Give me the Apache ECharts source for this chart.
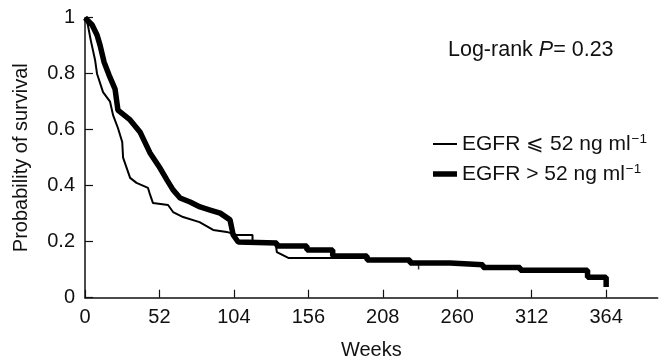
<!DOCTYPE html>
<html>
<head>
<meta charset="utf-8">
<script src="https://cdn.jsdelivr.net/npm/echarts@6/dist/echarts.min.js"></script>
<style>html,body{margin:0;padding:0;background:#fff}#c{width:667px;height:363px}</style>
</head>
<body>
<div id="c"></div>
<script>
// ---- data ----
const xTicks = [0, 52, 104, 156, 208, 260, 312, 364];
const yTicks = [0, 0.2, 0.4, 0.6, 0.8, 1];
const seriesNames = ['EGFR ⩽ 52 ng ml', 'EGFR > 52 ng ml'];

// EGFR <= 52 (thin curve)
const lowWeeks = [0, 2, 4, 7, 8.4, 12.6, 17.5, 19.6, 23, 26, 26.6, 31.5, 36, 44, 45.5, 47.5, 58, 61.5, 68.5, 80, 89.5, 99, 106, 117, 117, 133, 134, 142, 197, 197, 227, 227, 233];
const lowSurv  = [1, 0.974, 0.92, 0.85, 0.80, 0.734, 0.70, 0.652, 0.606, 0.556, 0.50, 0.428, 0.41, 0.392, 0.367, 0.338, 0.331, 0.306, 0.288, 0.27, 0.242, 0.235, 0.224, 0.224, 0.199, 0.199, 0.163, 0.142, 0.142, 0.133, 0.133, 0.124, 0.124];

// EGFR > 52 (thick curve)
const highWeeks = [0, 5, 8.4, 10.5, 13.3, 16.8, 21, 23, 31.5, 38.4, 45.4, 52.4, 57.3, 61.5, 66.4, 73.4, 80.4, 87.4, 94.4, 101.3, 103.5, 107, 134, 134, 155, 155, 173, 173, 197, 197, 227, 227, 255, 255, 278, 278, 304, 304, 351, 351, 364, 364];
const highSurv  = [1, 0.974, 0.938, 0.902, 0.842, 0.795, 0.745, 0.67, 0.635, 0.592, 0.517, 0.463, 0.42, 0.385, 0.356, 0.342, 0.324, 0.313, 0.302, 0.278, 0.224, 0.199, 0.195, 0.185, 0.185, 0.17, 0.17, 0.149, 0.149, 0.135, 0.135, 0.124, 0.124, 0.118, 0.118, 0.108, 0.108, 0.098, 0.098, 0.073, 0.073, 0.038];

// censored observation mark on the thin curve
const censorWeeks = [233];
const censorSurv = [0.124];

const titleText = ['Log-rank ', 'P', '= 0.23'];
const xName = 'Weeks';
const yName = 'Probability of survival';

// ---- chart ----
const FONT = '"Liberation Sans", Arial, Helvetica, sans-serif';
// legend icons: a horizontal bar inside a 24x14 box (corner points keep the box size)
const iconThin  = 'path://M0,0L0,0ZM0,6H24V8H0ZM24,14L24,14Z';
const iconThick = 'path://M0,0L0,0ZM0,4.2H24V9.8H0ZM24,14L24,14Z';

const chart = echarts.init(document.getElementById('c'));
chart.setOption({
  animation: false,
  backgroundColor: '#fff',
  textStyle: { fontFamily: FONT, color: '#111' },
  title: {
    text: '{a|' + titleText[0] + '}{p|' + titleText[1] + '}{a|' + titleText[2] + '}',
    left: 448, top: 39, padding: 0,
    textStyle: {
      fontWeight: 'normal',
      rich: {
        a: { fontFamily: FONT, fontSize: 21.5, fontWeight: 'normal', color: '#111', lineHeight: 22 },
        p: { fontFamily: FONT, fontSize: 21.5, fontWeight: 'normal', color: '#111', fontStyle: 'italic', lineHeight: 22 }
      }
    }
  },
  legend: {
    orient: 'vertical',
    left: 433, top: 132, padding: 0,
    itemWidth: 24, itemHeight: 14, itemGap: 6, itemTextGap: 5,
    data: [
      { name: seriesNames[0], icon: iconThin, itemStyle: { color: '#000', borderWidth: 0 } },
      { name: seriesNames[1], icon: iconThick, itemStyle: { color: '#000', borderWidth: 0 } }
    ],
    formatter: function (n) { return '{t|' + n + '}{s|−1}'; },
    textStyle: {
      rich: {
        t: { fontFamily: FONT, fontSize: 21, color: '#111', lineHeight: 22 },
        s: { fontFamily: FONT, fontSize: 13.5, color: '#111', lineHeight: 22, padding: [0, 0, 10, 1] }
      }
    }
  },
  grid: { left: 85, right: 9.3, top: 17.7, bottom: 65.3, containLabel: false, outerBoundsMode: 'none' },
  xAxis: {
    type: 'value', min: 0, max: 400,
    name: xName, nameLocation: 'middle', nameGap: 43,
    nameTextStyle: { fontFamily: FONT, fontSize: 20, color: '#111' },
    axisLine: { lineStyle: { color: '#111', width: 1.5 } },
    axisTick: { inside: true, length: 8, customValues: xTicks, lineStyle: { color: '#111', width: 1.2 } },
    axisLabel: { customValues: xTicks, fontFamily: FONT, fontSize: 20, color: '#111', margin: 10 },
    splitLine: { show: false }
  },
  yAxis: {
    type: 'value', min: 0, max: 1, interval: 0.2,
    name: yName, nameLocation: 'middle', nameGap: 54,
    nameTextStyle: { fontFamily: FONT, fontSize: 20, color: '#111' },
    axisLine: { show: true, lineStyle: { color: '#111', width: 1.5 } },
    axisTick: { show: true, inside: true, length: 8, lineStyle: { color: '#111', width: 1.2 } },
    axisLabel: { fontFamily: FONT, fontSize: 20, color: '#111', margin: 10,
      formatter: function (v) { return String(+v.toFixed(1)); } },
    splitLine: { show: false }
  },
  series: [
    {
      name: seriesNames[0], type: 'line', symbol: 'none', z: 3,
      data: lowWeeks.map((w, i) => [w, lowSurv[i]]),
      lineStyle: { color: '#000', width: 2 },
      itemStyle: { color: '#000' }
    },
    {
      name: seriesNames[1], type: 'line', symbol: 'none', z: 2,
      data: highWeeks.map((w, i) => [w, highSurv[i]]),
      lineStyle: { color: '#000', width: 5.5 },
      itemStyle: { color: '#000' }
    },
    {
      name: 'censor', type: 'scatter', symbol: 'rect', symbolSize: [1.5, 7], symbolOffset: [0, 3],
      data: censorWeeks.map((w, i) => [w, censorSurv[i]]),
      itemStyle: { color: '#000' }, z: 4
    }
  ]
});
</script>
</body>
</html>
